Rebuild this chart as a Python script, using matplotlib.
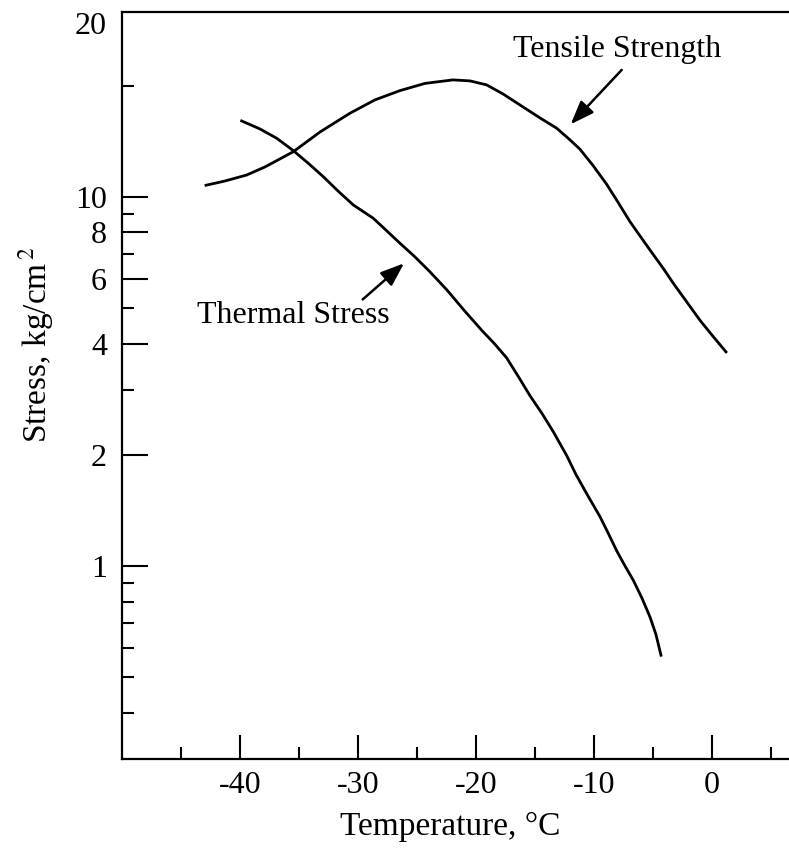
import numpy as np
import matplotlib
matplotlib.use("Agg")
import matplotlib.pyplot as plt
from matplotlib.ticker import FixedLocator, FixedFormatter, NullFormatter

plt.rcParams['font.family'] = ['Liberation Serif', 'DejaVu Serif']
plt.rcParams['mathtext.fontset'] = 'stix'

# Tensile strength curve (temperature °C, stress kg/cm2)
tensile_t = [-42.88, -41.27, -39.43, -37.88, -36.61, -35.48, -33.22, -30.68, -28.56,
             -26.44, -24.32, -21.95, -20.51, -19.09, -17.71, -16.27, -14.58, -13.16,
             -12.03, -11.19, -10.08, -8.92, -7.97, -6.95, -5.25, -4.15, -3.28, -2.12,
             -1.02, 0.08, 1.19]
tensile_s = [10.74, 11.03, 11.45, 12.04, 12.66, 13.24, 14.97, 16.83, 18.29,
             19.38, 20.27, 20.72, 20.59, 20.08, 18.98, 17.72, 16.35, 15.33,
             14.25, 13.45, 12.15, 10.80, 9.67, 8.56, 7.17, 6.41, 5.83, 5.18,
             4.63, 4.19, 3.80]

# Thermal stress curve
thermal_t = [-39.86, -38.31, -36.89, -35.48, -34.24, -32.94, -31.69, -30.40, -28.70,
             -27.54, -26.44, -25.17, -23.90, -22.46, -21.02, -19.52, -18.47, -17.40,
             -16.44, -15.42, -14.41, -13.45, -12.31, -11.53, -10.62, -9.49, -8.81,
             -8.08, -7.37, -6.67, -5.93, -5.25, -4.75, -4.32]
thermal_s = [16.04, 15.26, 14.40, 13.33, 12.34, 11.33, 10.36, 9.50, 8.74,
             8.07, 7.48, 6.87, 6.26, 5.59, 4.93, 4.35, 4.01, 3.66,
             3.27, 2.89, 2.59, 2.31, 1.99, 1.77, 1.57, 1.36, 1.23,
             1.10, 1.00, 0.915, 0.818, 0.727, 0.653, 0.573]

y_major = [1, 2, 4, 6, 8, 10]
y_major_labels = ['1', '2', '4', '6', '8', '10']
y_minor = [0.4, 0.5, 0.6, 0.7, 0.8, 0.9, 3, 5, 7, 9, 20]
x_major = [-40, -30, -20, -10, 0]
x_minor = [-45, -35, -25, -15, -5, 5]

fig = plt.figure(figsize=(7.89, 8.55), dpi=100)
ax = fig.add_axes([122/789, 96/855, 1 - 122/789, (759 - 11.7)/855])

lw = 2.0
ax.plot(tensile_t, tensile_s, color='black', lw=lw, solid_joinstyle='round')
ax.plot(thermal_t, thermal_s, color='black', lw=lw, solid_joinstyle='round')

ax.set_yscale('log')
ax.set_xlim(-50, 6.53)
ax.set_ylim(0.30, 31.7)

ax.yaxis.set_major_locator(FixedLocator(y_major))
ax.yaxis.set_major_formatter(FixedFormatter(y_major_labels))
ax.yaxis.set_minor_locator(FixedLocator(y_minor))
ax.yaxis.set_minor_formatter(NullFormatter())
ax.xaxis.set_major_locator(FixedLocator(x_major))
ax.xaxis.set_minor_locator(FixedLocator(x_minor))
ax.set_xticklabels([str(v) for v in x_major])

ax.tick_params(axis='y', which='major', direction='in', length=18.5, width=1.5,
               labelsize=23, pad=10.8)
ax.tick_params(axis='y', which='minor', direction='in', length=8.5, width=1.5)
ax.tick_params(axis='x', which='major', direction='in', length=17, width=1.5,
               labelsize=23, pad=8.5)
ax.tick_params(axis='x', which='minor', direction='in', length=8.5, width=1.5)

for s in ['left', 'top', 'bottom']:
    ax.spines[s].set_linewidth(1.6)
ax.spines['right'].set_visible(False)

# top "20" label
ax.annotate('20', xy=(0, 1), xycoords='axes fraction', xytext=(-10.8, -10.5),
            textcoords='offset points', ha='right', va='center', fontsize=23)

ax.set_xlabel('Temperature, °C', fontsize=24)
ax.xaxis.label.set_va('center')
ax.xaxis.set_label_coords((450 - 122)/667, -68/747.3)

ax.set_ylabel('Stress, kg/cm$^{\\,2}$', fontsize=24)
ax.yaxis.label.set_va('center')
ax.yaxis.set_label_coords((36 - 122)/667, (759 - 345)/747.3)

arrow = dict(arrowstyle='-|>,head_length=0.8,head_width=0.3', mutation_scale=18,
             lw=1.8, color='black', shrinkA=0, shrinkB=0)
ax.annotate('', xy=(-11.97, 15.71), xytext=(-7.65, 22.05), arrowprops=arrow)
ax.text(-8.05, 23.9, 'Tensile Strength', fontsize=23, ha='center', va='baseline')
ax.annotate('', xy=(-26.1, 6.60), xytext=(-29.6, 5.27), arrowprops=arrow)
ax.text(-35.47, 4.555, 'Thermal Stress', fontsize=23, ha='center', va='baseline')

fig.savefig('out.png', dpi=100)
